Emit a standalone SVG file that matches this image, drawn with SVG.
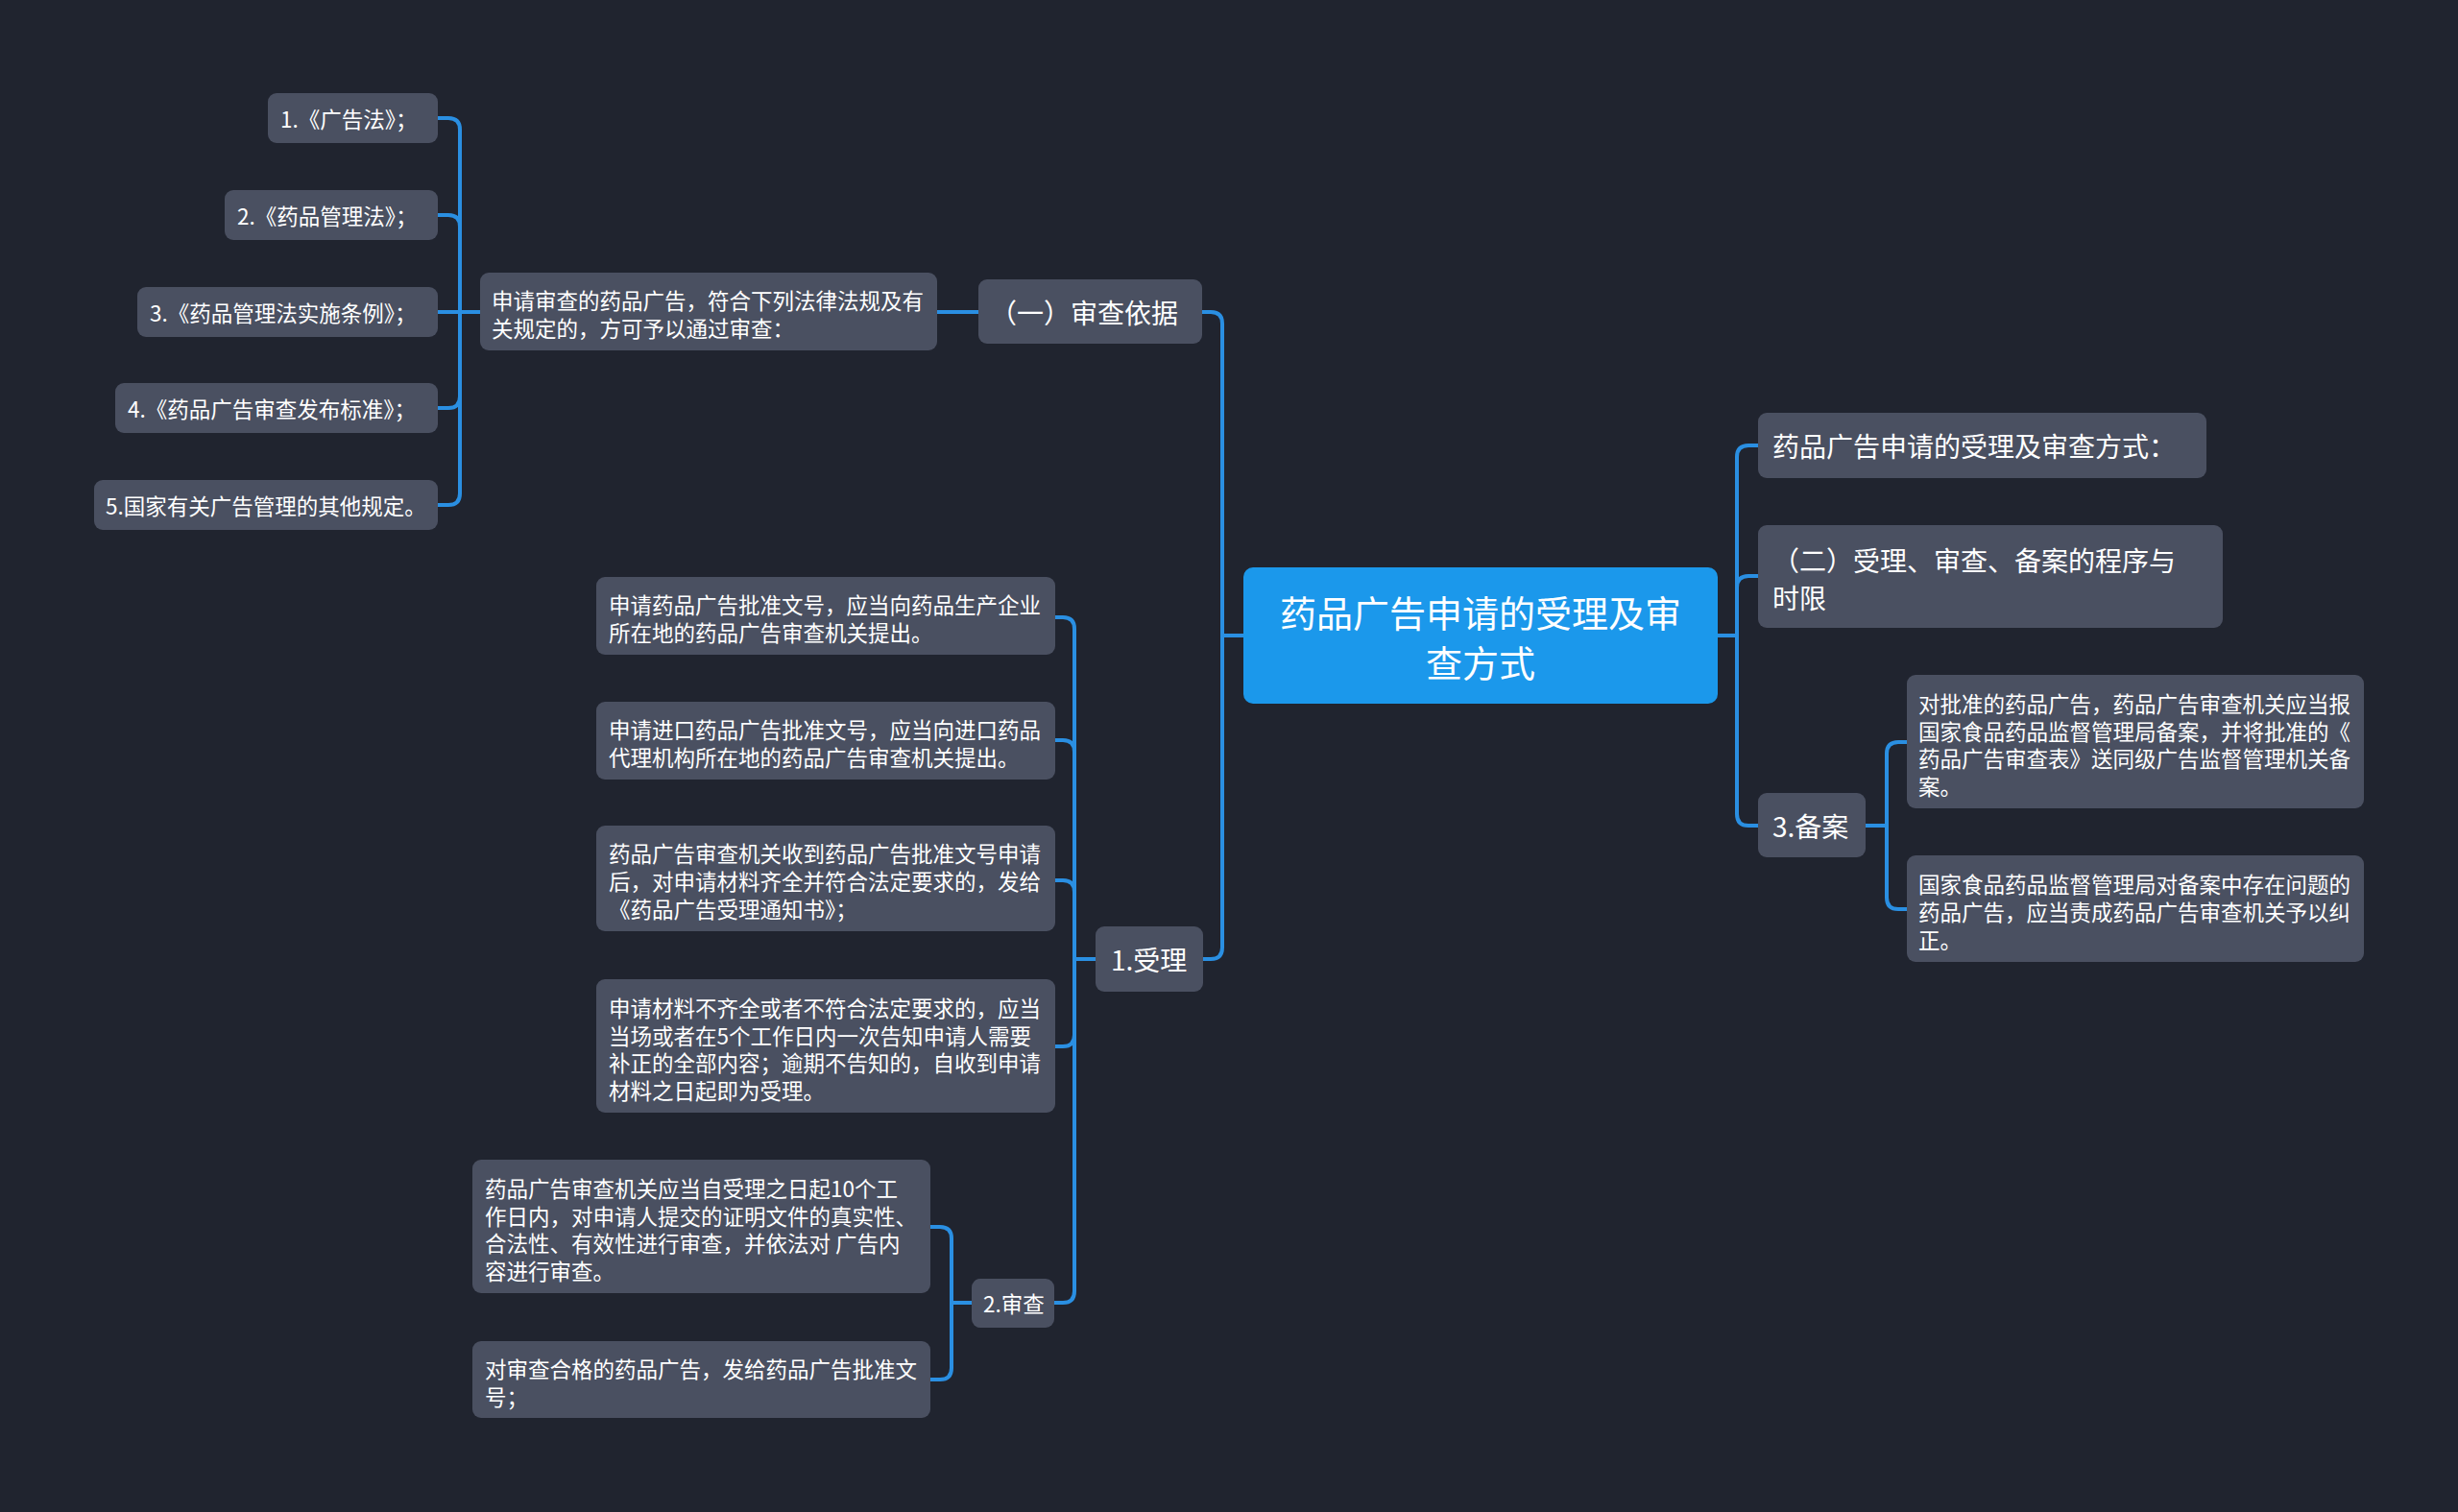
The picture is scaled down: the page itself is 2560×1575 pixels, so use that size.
<svg xmlns="http://www.w3.org/2000/svg" width="2560" height="1575" viewBox="0 0 2560 1575">
<style>
.bg{fill:#20242f}
.n{fill:#4a5061}
.c{fill:#1b98eb}
.t{fill:#ffffff;font-family:"Noto Sans CJK SC","Noto Sans",sans-serif;dominant-baseline:central}
.s{font-size:22.5px}
.m{font-size:28px}
.l{font-size:38px}
.e{fill:none;stroke:#2a8fe2;stroke-width:4;stroke-linecap:round;stroke-linejoin:round}
</style>
<rect class="bg" x="0" y="0" width="2560" height="1575"/>
<g id="connectors">
<path class="e" d="M1295,662 H1273 V337 Q1273,325 1261,325 H1252"/>
<path class="e" d="M1295,662 H1273 V987 Q1273,999 1261,999 H1253"/>
<path class="e" d="M1019,325 H976"/>
<path class="e" d="M500,325 H479 V135 Q479,123 467,123 H456"/>
<path class="e" d="M500,325 H479 V236 Q479,224 467,224 H456"/>
<path class="e" d="M500,325 H456"/>
<path class="e" d="M500,325 H479 V413 Q479,425 467,425 H456"/>
<path class="e" d="M500,325 H479 V514 Q479,526 467,526 H456"/>
<path class="e" d="M1141,999 H1119 V655 Q1119,643 1107,643 H1099"/>
<path class="e" d="M1141,999 H1119 V783 Q1119,771 1107,771 H1099"/>
<path class="e" d="M1141,999 H1119 V929 Q1119,917 1107,917 H1099"/>
<path class="e" d="M1141,999 H1119 V1078 Q1119,1090 1107,1090 H1099"/>
<path class="e" d="M1141,999 H1119 V1345 Q1119,1357 1107,1357 H1098"/>
<path class="e" d="M1012,1357 H991 V1290 Q991,1278 979,1278 H969"/>
<path class="e" d="M1012,1357 H991 V1425 Q991,1437 979,1437 H969"/>
<path class="e" d="M1789,662 H1809 V476 Q1809,464 1821,464 H1831"/>
<path class="e" d="M1789,662 H1809 V612 Q1809,600 1821,600 H1831"/>
<path class="e" d="M1789,662 H1809 V848 Q1809,860 1821,860 H1831"/>
<path class="e" d="M1943,860 H1965 V785 Q1965,773 1977,773 H1986"/>
<path class="e" d="M1943,860 H1965 V935 Q1965,947 1977,947 H1986"/>
</g>
<g id="root">
<rect class="c" x="1295" y="591" width="494" height="142" rx="10"/>
<text class="t l" text-anchor="middle"><tspan x="1542" y="636">药品广告申请的受理及审</tspan><tspan x="1542" y="688">查方式</tspan></text>
</g>
<g id="n-shencha-yiju">
<rect class="n" x="1019" y="291" width="233" height="67" rx="9"/>
<text class="t m" x="1031" y="325">（一）审查依据</text>
</g>
<g id="n-shenqing">
<rect class="n" x="500" y="284" width="476" height="81" rx="9"/>
<text class="t s"><tspan x="512" y="312">申请审查的药品广告，符合下列法律法规及有</tspan><tspan x="512" y="341">关规定的，方可予以通过审查：</tspan></text>
</g>
<g id="n-law1">
<rect class="n" x="279" y="97" width="177" height="52" rx="9"/>
<text class="t s" x="292" y="123">1.《广告法》；</text>
</g>
<g id="n-law2">
<rect class="n" x="234" y="198" width="222" height="52" rx="9"/>
<text class="t s" x="247" y="224">2.《药品管理法》；</text>
</g>
<g id="n-law3">
<rect class="n" x="143" y="299" width="313" height="52" rx="9"/>
<text class="t s" x="156" y="325">3.《药品管理法实施条例》；</text>
</g>
<g id="n-law4">
<rect class="n" x="120" y="399" width="336" height="52" rx="9"/>
<text class="t s" x="133" y="425">4.《药品广告审查发布标准》；</text>
</g>
<g id="n-law5">
<rect class="n" x="98" y="500" width="358" height="52" rx="9"/>
<text class="t s" x="110" y="526">5.国家有关广告管理的其他规定。</text>
</g>
<g id="n-shouli">
<rect class="n" x="1141" y="965" width="112" height="68" rx="9"/>
<text class="t m" x="1157" y="999">1.受理</text>
</g>
<g id="n-a">
<rect class="n" x="621" y="601" width="478" height="81" rx="9"/>
<text class="t s"><tspan x="634" y="629">申请药品广告批准文号，应当向药品生产企业</tspan><tspan x="634" y="658">所在地的药品广告审查机关提出。</tspan></text>
</g>
<g id="n-b">
<rect class="n" x="621" y="731" width="478" height="81" rx="9"/>
<text class="t s"><tspan x="634" y="759">申请进口药品广告批准文号，应当向进口药品</tspan><tspan x="634" y="788">代理机构所在地的药品广告审查机关提出。</tspan></text>
</g>
<g id="n-c">
<rect class="n" x="621" y="860" width="478" height="110" rx="9"/>
<text class="t s"><tspan x="634" y="888">药品广告审查机关收到药品广告批准文号申请</tspan><tspan x="634" y="917">后，对申请材料齐全并符合法定要求的，发给</tspan><tspan x="634" y="946">《药品广告受理通知书》；</tspan></text>
</g>
<g id="n-d">
<rect class="n" x="621" y="1020" width="478" height="139" rx="9"/>
<text class="t s"><tspan x="634" y="1049">申请材料不齐全或者不符合法定要求的，应当</tspan><tspan x="634" y="1078">当场或者在5个工作日内一次告知申请人需要</tspan><tspan x="634" y="1106">补正的全部内容；逾期不告知的，自收到申请</tspan><tspan x="634" y="1135">材料之日起即为受理。</tspan></text>
</g>
<g id="n-shencha">
<rect class="n" x="1012" y="1332" width="86" height="51" rx="9"/>
<text class="t s" x="1024" y="1357">2.审查</text>
</g>
<g id="n-e">
<rect class="n" x="492" y="1208" width="477" height="139" rx="9"/>
<text class="t s"><tspan x="505" y="1237">药品广告审查机关应当自受理之日起10个工</tspan><tspan x="505" y="1266">作日内，对申请人提交的证明文件的真实性、</tspan><tspan x="505" y="1294">合法性、有效性进行审查，并依法对 广告内</tspan><tspan x="505" y="1323">容进行审查。</tspan></text>
</g>
<g id="n-f">
<rect class="n" x="492" y="1397" width="477" height="80" rx="9"/>
<text class="t s"><tspan x="505" y="1425">对审查合格的药品广告，发给药品广告批准文</tspan><tspan x="505" y="1454">号；</tspan></text>
</g>
<g id="n-r1">
<rect class="n" x="1831" y="430" width="467" height="68" rx="9"/>
<text class="t m" x="1846" y="464">药品广告申请的受理及审查方式：</text>
</g>
<g id="n-r2">
<rect class="n" x="1831" y="547" width="484" height="107" rx="9"/>
<text class="t m"><tspan x="1846" y="583">（二）受理、审查、备案的程序与</tspan><tspan x="1846" y="622">时限</tspan></text>
</g>
<g id="n-beian">
<rect class="n" x="1831" y="826" width="112" height="67" rx="9"/>
<text class="t m" x="1846" y="860">3.备案</text>
</g>
<g id="n-r3a">
<rect class="n" x="1986" y="703" width="476" height="139" rx="9"/>
<text class="t s"><tspan x="1998" y="732">对批准的药品广告，药品广告审查机关应当报</tspan><tspan x="1998" y="761">国家食品药品监督管理局备案，并将批准的《</tspan><tspan x="1998" y="789">药品广告审查表》送同级广告监督管理机关备</tspan><tspan x="1998" y="818">案。</tspan></text>
</g>
<g id="n-r3b">
<rect class="n" x="1986" y="891" width="476" height="111" rx="9"/>
<text class="t s"><tspan x="1998" y="920">国家食品药品监督管理局对备案中存在问题的</tspan><tspan x="1998" y="949">药品广告，应当责成药品广告审查机关予以纠</tspan><tspan x="1998" y="978">正。</tspan></text>
</g>
</svg>
